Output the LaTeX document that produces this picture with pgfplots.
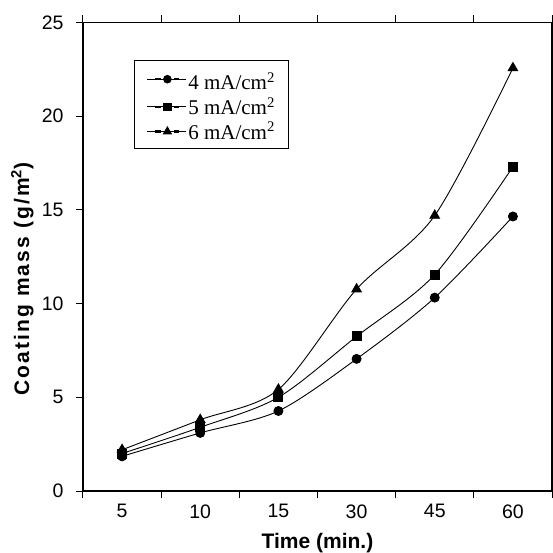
\documentclass[border=0pt]{standalone}
\usepackage{fontspec}
\setmainfont{Liberation Sans}
\newfontfamily\timesfont{Liberation Serif}
\newfontfamily\ylabfont[LetterSpace=10]{Liberation Sans}
\usepackage{pgfplots}
\pgfplotsset{compat=1.18}
\begin{document}
\begin{tikzpicture}
\useasboundingbox (-83pt,-61pt) rectangle (470pt,491pt);
\begin{axis}[
  at={(0pt,0pt)}, anchor=south west,
  width=469pt, height=468.5pt, scale only axis,
  xmin=-0.5, xmax=5.5, ymin=0, ymax=25,
  xtick={0,...,5}, xticklabels={5,10,15,30,45,60},
  minor xtick={-0.5,0.5,...,5.5},
  ytick={0,5,...,25},
  major x tick style={draw=none},
  tick align=outside,
  major tick length=7pt, minor tick length=7pt,
  every tick/.style={black, line width=1pt},
  axis line style={line width=1.1pt},
  tick label style={font=\fontsize{19.5}{22}\selectfont},
  /pgf/number format/assume math mode=true,
  yticklabel style={xshift=-9pt},
  xticklabel style={yshift=-3pt},
  xlabel={Time (min.)},
  ylabel={Coating mass (g/m\textsuperscript{2})},
  every axis x label/.style={at={(axis description cs:0.5,-0.1217)}, anchor=base,
    font=\fontsize{21}{24}\selectfont\bfseries},
  every axis y label/.style={at={(axis description cs:-0.1151,0.4525)}, rotate=90, anchor=base,
    font=\ylabfont\fontsize{21}{24}\selectfont\bfseries},
  legend style={at={(axis description cs:0.1087,0.921)}, anchor=north west,
    draw=black, line width=0.9pt, font=\timesfont\fontsize{21}{24}\selectfont,
    inner xsep=12pt, inner ysep=5pt, row sep=2pt},
  legend cell align=left,
  legend image code/.code={
    \path (-9pt,0pt) -- (30pt,0pt);
    \fill[black] (0pt,-0.65pt) rectangle (4.5pt,0.65pt);
    \fill[black] (18.5pt,-0.65pt) rectangle (23pt,0.65pt);
    \path[#1, mark options={solid, scale=0.85}] plot coordinates {(11.5pt,0pt)};
  },
]
\addplot[black, line width=0.9pt, smooth, mark=*, mark size=4.5pt, mark options={solid}]
  coordinates {(0,1.85)(1,3.1)(2,4.27)(3,7.05)(4,10.32)(5,14.65)};
\addlegendentry{\rule{0pt}{23pt}4 mA/cm\textsuperscript{2}}
\addplot[black, line width=0.9pt, smooth, mark=square*, mark size=4.5pt, mark options={solid}]
  coordinates {(0,2.0)(1,3.4)(2,5.0)(3,8.25)(4,11.55)(5,17.3)};
\addlegendentry{5 mA/cm\textsuperscript{2}}
\addplot[black, line width=0.9pt, smooth, mark=triangle*, mark size=5.5pt, mark options={solid}]
  coordinates {(0,2.2)(1,3.8)(2,5.42)(3,10.77)(4,14.7)(5,22.57)};
\addlegendentry{6 mA/cm\textsuperscript{2}}
\end{axis}
\end{tikzpicture}
\end{document}
